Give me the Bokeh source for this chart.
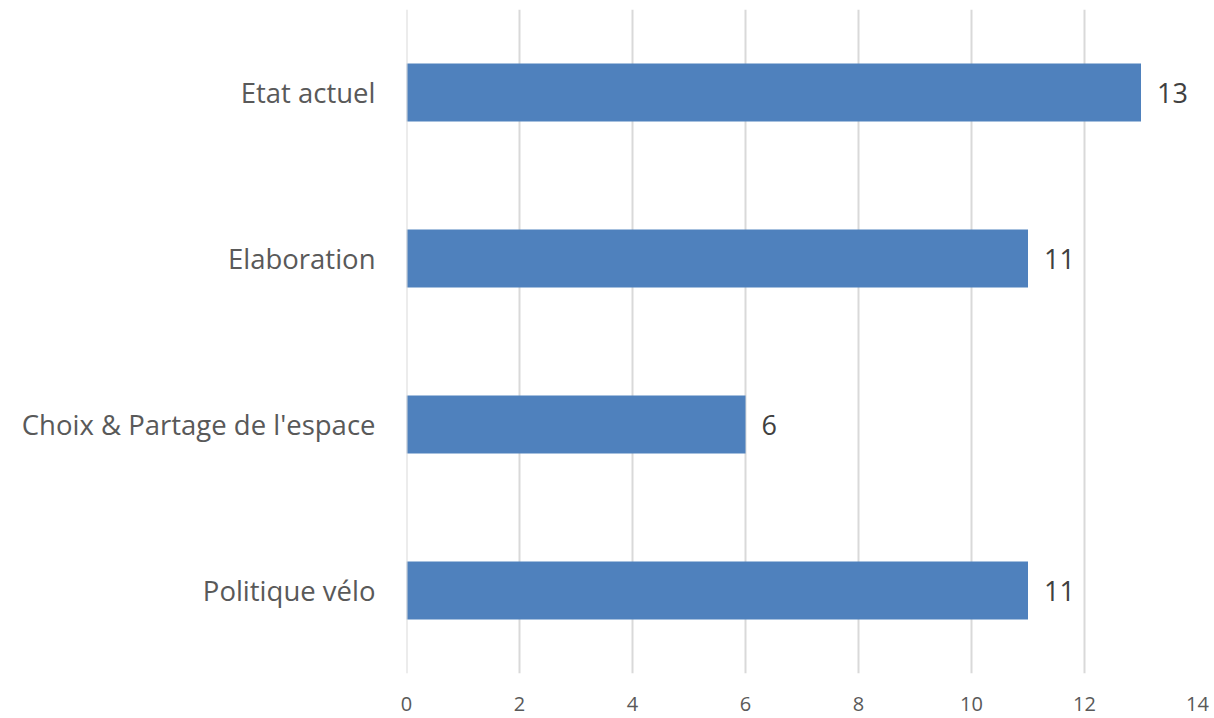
from bokeh.plotting import figure
from bokeh.models import ColumnDataSource, FixedTicker, Range1d, Span
from bokeh.core.properties import value
from bokeh.embed import file_html
from bokeh.resources import INLINE

categories = ["Etat actuel", "Elaboration", "Choix & Partage de l'espace", "Politique vélo"]
counts = [13, 11, 6, 11]
x_ticks = [0, 2, 4, 6, 8, 10, 12, 14]

FONT = "Open Sans"
factors = list(reversed(categories))

src = ColumnDataSource(dict(cat=categories, val=counts, lab=[str(v) for v in counts]))

p = figure(width=1212, height=716, y_range=factors, x_range=Range1d(0, 14),
           output_backend="svg", toolbar_location=None,
           min_border_left=406, min_border_right=15, min_border_top=9, min_border_bottom=43)

p.add_layout(Span(location=0, dimension="height", line_color="#d9d9d9", line_width=2))
p.hbar(y="cat", right="val", left=0, height=0.35, source=src, color="#4f81bd", line_color=None)
p.text(x="val", y="cat", text="lab", source=src, x_offset=16, text_baseline="middle",
       text_align="left", text_font=value(FONT), text_font_size="27px", text_color="#404040")

p.outline_line_color = None
p.ygrid.grid_line_color = None
p.xgrid.grid_line_color = "#d9d9d9"
p.xgrid.grid_line_width = 2
p.xaxis.ticker = FixedTicker(ticks=x_ticks)

for ax in (p.xaxis, p.yaxis):
    ax.axis_line_color = None
    ax.major_tick_line_color = None
    ax.minor_tick_line_color = None
    ax.major_label_text_font = FONT
    ax.major_label_text_color = "#595959"

p.xaxis.major_label_text_font_size = "20px"
p.xaxis.major_label_standoff = 17
p.yaxis.major_label_text_font_size = "27.5px"
p.yaxis.major_label_standoff = 25

open("out.html", "w").write(file_html(p, INLINE))
